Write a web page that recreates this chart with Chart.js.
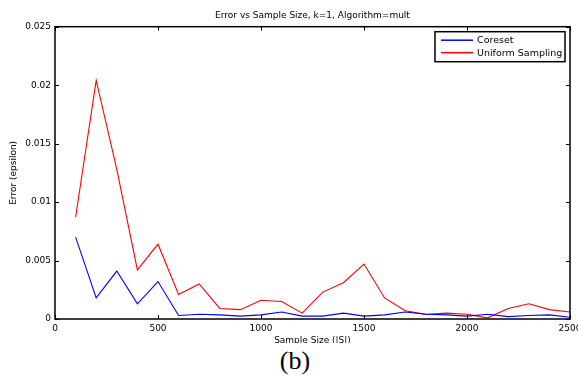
<!DOCTYPE html>
<html>
<head>
<meta charset="utf-8">
<script src="https://cdn.jsdelivr.net/npm/chart.js@4"></script>
<style>
  body { margin: 0; background: #fff; }
  #wrap { position: absolute; left: 0; top: 0; width: 578px; height: 343px; }
  #label { position: absolute; left: 0; top: 346px; width: 590px; text-align: center;
           font-family: "Liberation Serif", serif; font-size: 26px; line-height: 30px; color: #000; }
</style>
</head>
<body>
<div id="wrap"><canvas id="chart"></canvas></div>
<div id="label">(b)</div>
<script>
const sampleSizes = [100, 200, 300, 400, 500, 600, 700, 800, 900, 1000, 1100, 1200, 1300,
    1400, 1500, 1600, 1700, 1800, 1900, 2000, 2100, 2200, 2300, 2400, 2500];
const coreset = [0.0070, 0.0018, 0.0041, 0.0013, 0.0032, 0.0003, 0.0004, 0.00035, 0.00025, 0.00035,
    0.0006, 0.00025, 0.00025, 0.0005, 0.00025, 0.00035, 0.0006, 0.0004, 0.00035, 0.00025,
    0.0004, 0.0002, 0.0003, 0.00035, 0.00015];
const uniform = [0.0087, 0.0204, 0.0128, 0.0042, 0.0064, 0.0021, 0.0030, 0.0009, 0.0008, 0.0016,
    0.0015, 0.0005, 0.0023, 0.0031, 0.0047, 0.0018, 0.0007, 0.0004, 0.0005, 0.0004,
    0.0001, 0.0009, 0.0013, 0.0008, 0.0006];
const xTicks = [0, 500, 1000, 1500, 2000, 2500];
const yTicks = [0, 0.005, 0.01, 0.015, 0.02, 0.025];

Chart.defaults.font.family = 'DejaVu Sans';
Chart.defaults.color = '#000';

function toPoints(vals) {
    return sampleSizes.map((s, i) => ({ x: s, y: vals[i] }));
}

// box round the plot, inward ticks on all four sides, legend in the corner
const framePlugin = {
    id: 'frame',
    afterDraw(chart) {
        const ctx = chart.ctx;
        const a = chart.chartArea;
        const xs = chart.scales.x, ys = chart.scales.y;
        ctx.save();
        ctx.strokeStyle = '#000';
        ctx.lineWidth = 1;
        ctx.beginPath();
        xTicks.forEach(v => {
            const px = Math.round(xs.getPixelForValue(v)) + 0.5;
            ctx.moveTo(px, a.bottom); ctx.lineTo(px, a.bottom - 4);
            ctx.moveTo(px, a.top); ctx.lineTo(px, a.top + 4);
        });
        yTicks.forEach(v => {
            const py = Math.round(ys.getPixelForValue(v)) + 0.5;
            ctx.moveTo(a.left, py); ctx.lineTo(a.left + 4, py);
            ctx.moveTo(a.right, py); ctx.lineTo(a.right - 4, py);
        });
        ctx.stroke();
        ctx.lineWidth = 1.5;
        ctx.strokeRect(a.left, a.top, a.right - a.left, a.bottom - a.top);

        // legend
        const bx = a.right - 135, by = a.top + 5, bw = 130, bh = 30;
        ctx.fillStyle = '#fff';
        ctx.fillRect(bx, by, bw, bh);
        ctx.lineWidth = 1.5;
        ctx.strokeRect(bx, by, bw, bh);
        ctx.font = '9.5px "DejaVu Sans"';
        ctx.textBaseline = 'middle';
        chart.data.datasets.forEach((ds, i) => {
            const ly = by + 8.5 + i * 12.5;
            ctx.strokeStyle = ds.borderColor;
            ctx.lineWidth = 1.5;
            ctx.beginPath();
            ctx.moveTo(bx + 6, ly); ctx.lineTo(bx + 38, ly);
            ctx.stroke();
            ctx.fillStyle = '#000';
            ctx.fillText(ds.label, bx + 42, ly + 0.5);
        });
        ctx.restore();
    }
};

new Chart(document.getElementById('chart'), {
    type: 'line',
    data: {
        datasets: [
            { label: 'Coreset', data: toPoints(coreset), borderColor: '#0000ff', backgroundColor: '#0000ff',
              borderWidth: 1.1, pointRadius: 0, tension: 0, fill: false },
            { label: 'Uniform Sampling', data: toPoints(uniform), borderColor: '#ff0000', backgroundColor: '#ff0000',
              borderWidth: 1.1, pointRadius: 0, tension: 0, fill: false }
        ]
    },
    options: {
        responsive: true,
        maintainAspectRatio: false,
        animation: false,
        layout: { padding: { left: 0, right: 8, top: 0, bottom: 0 } },
        plugins: {
            legend: { display: false },
            tooltip: { enabled: false },
            title: {
                display: true,
                fullSize: false,
                text: 'Error vs Sample Size, k=1, Algorithm=mult',
                font: { size: 9, weight: 'normal' },
                padding: { top: 10, bottom: 5.9 }
            }
        },
        scales: {
            x: {
                type: 'linear',
                min: 0,
                max: 2500,
                afterBuildTicks: s => { s.ticks = xTicks.map(v => ({ value: v })); },
                afterFit: s => { s.height = 24; s.paddingLeft = 0; s.paddingRight = 0; },
                grid: { display: false, drawTicks: false },
                border: { display: false },
                ticks: { font: { size: 9 }, padding: 4, maxRotation: 0, autoSkip: false,
                         callback: v => String(v) },
                title: { display: true, text: 'Sample Size (|S|)', font: { size: 9, lineHeight: 0.6 }, padding: 0 }
            },
            y: {
                min: 0,
                max: 0.025,
                afterBuildTicks: s => { s.ticks = yTicks.map(v => ({ value: v })); },
                afterFit: s => { s.width = 55; s.paddingTop = 0; s.paddingBottom = 0; },
                grid: { display: false, drawTicks: false },
                border: { display: false },
                ticks: {
                    font: { size: 9 },
                    padding: 4,
                    callback: v => String(parseFloat(v.toFixed(4)))
                },
                title: { display: true, text: 'Error (epsilon)', font: { size: 9 }, padding: { top: 8.6, bottom: 0 } }
            }
        }
    },
    plugins: [framePlugin]
});
</script>
</body>
</html>
